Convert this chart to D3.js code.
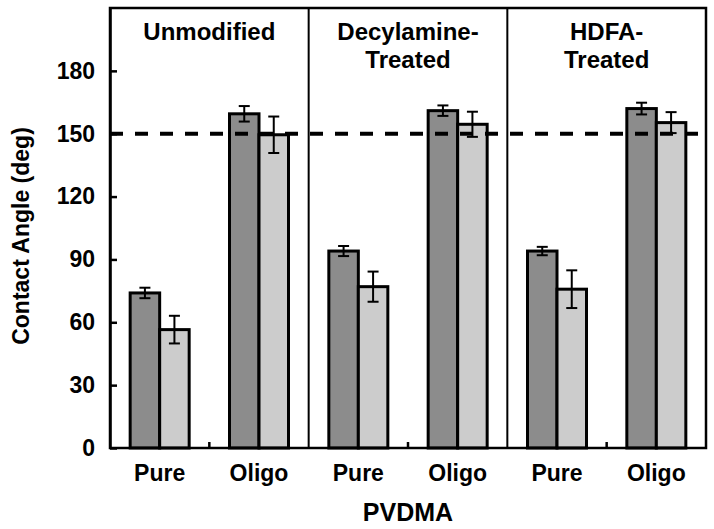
<!DOCTYPE html>
<html>
<head>
<meta charset="utf-8">
<script src="https://cdn.jsdelivr.net/npm/d3@7"></script>
<style>
  html, body { margin: 0; padding: 0; background: #fff; }
  svg text { font-family: "Liberation Sans", Arial, sans-serif; font-weight: bold; fill: #000; }
</style>
</head>
<body>
<svg id="chart" width="714" height="529"></svg>
<script>
// ---- data ----
const categories = ["Pure", "Oligo", "Pure", "Oligo", "Pure", "Oligo"];
const panels = [["Unmodified"], ["Decylamine-", "Treated"], ["HDFA-", "Treated"]];
const seriesNames = ["A", "B"];
const darkValues = [74, 159.5, 94, 161, 94, 162];
const darkErrors = [2.5, 3.7, 2.4, 2.5, 2, 2.8];
const lightValues = [56.5, 149.5, 77, 154.5, 75.8, 155.3];
const lightErrors = [6.6, 8.7, 7.2, 6, 9, 5];
const yTicks = [0, 30, 60, 90, 120, 150, 180];
const thresholdValue = 150;
const yLabel = "Contact Angle (deg)";
const xLabel = "PVDMA";

// ---- layout ----
const L = 110, R = 706, T = 8, B = 448;
const colors = ["#8c8c8c", "#cccccc"];

const svg = d3.select("#chart");

const x = d3.scaleBand().domain(d3.range(categories.length)).range([L, R]).paddingInner(0).paddingOuter(0);
const barGroupWidth = 59;
const xs = d3.scaleBand().domain(seriesNames).range([0, barGroupWidth]);
const y = d3.scaleLinear().domain([0, 210]).range([B, T]);

const data = categories.map((c, i) => ({
  i, c,
  vals: [
    { s: "A", v: darkValues[i], e: darkErrors[i] },
    { s: "B", v: lightValues[i], e: lightErrors[i] }
  ]
}));

// bars
const groups = svg.selectAll("g.cat").data(data).join("g")
  .attr("class", "cat")
  .attr("transform", d => `translate(${x(d.i) + x.bandwidth() / 2 - barGroupWidth / 2},0)`);

groups.selectAll("rect").data(d => d.vals).join("rect")
  .attr("x", d => xs(d.s))
  .attr("y", d => y(d.v))
  .attr("width", xs.bandwidth())
  .attr("height", d => y(0) - y(d.v))
  .attr("fill", (d, k) => colors[k])
  .attr("stroke", "#000")
  .attr("stroke-width", 3);

// error bars
groups.selectAll("g.err").data(d => d.vals).join("g").attr("class", "err")
  .each(function(d) {
    const g = d3.select(this);
    const cx = xs(d.s) + xs.bandwidth() / 2;
    g.append("line").attr("x1", cx).attr("x2", cx).attr("y1", y(d.v + d.e)).attr("y2", y(d.v - d.e))
      .attr("stroke", "#000").attr("stroke-width", 2);
    [d.v + d.e, d.v - d.e].forEach(v => {
      g.append("line").attr("x1", cx - 5.5).attr("x2", cx + 5.5).attr("y1", y(v)).attr("y2", y(v))
        .attr("stroke", "#000").attr("stroke-width", 2);
    });
  });

// dashed threshold line
svg.append("line")
  .attr("x1", L).attr("x2", R)
  .attr("y1", y(thresholdValue)).attr("y2", y(thresholdValue))
  .attr("stroke", "#000").attr("stroke-width", 4)
  .attr("stroke-dasharray", "13,12");

// panel dividers
[2, 4].forEach(k => {
  svg.append("line").attr("x1", x(k)).attr("x2", x(k)).attr("y1", T).attr("y2", B)
    .attr("stroke", "#000").attr("stroke-width", 2);
});
// small x ticks at boundaries
[1, 3, 5].forEach(k => {
  svg.append("line").attr("x1", x(k)).attr("x2", x(k)).attr("y1", B).attr("y2", B - 6)
    .attr("stroke", "#000").attr("stroke-width", 2.5);
});

// frame
svg.append("rect").attr("x", L).attr("y", T).attr("width", R - L).attr("height", B - T)
  .attr("fill", "none").attr("stroke", "#000").attr("stroke-width", 2.5);

// y axis
const yAxis = d3.axisLeft(y).tickValues(yTicks).tickSizeInner(-7).tickSizeOuter(0).tickPadding(15);
const ya = svg.append("g").attr("transform", `translate(${L},0)`).call(yAxis);
ya.select(".domain").attr("stroke", "#000").attr("stroke-width", 2.5);
ya.selectAll(".tick line").attr("stroke", "#000").attr("stroke-width", 2.5);
ya.selectAll(".tick text").style("font-size", "23px").style("font-family", "'Liberation Sans', Arial, sans-serif").style("font-weight", "bold");

// x category labels
const xAxis = d3.axisBottom(x).tickFormat(i => categories[i]).tickSize(0).tickPadding(17);
const xa = svg.append("g").attr("transform", `translate(0,${B})`).call(xAxis);
xa.select(".domain").remove();
xa.selectAll(".tick text").style("font-size", "23px").style("font-family", "'Liberation Sans', Arial, sans-serif").style("font-weight", "bold");

// panel labels
panels.forEach((lines, p) => {
  const cx = (x(p * 2) + x(p * 2 + 1) + x.bandwidth()) / 2;
  lines.forEach((t, j) => {
    svg.append("text").attr("x", cx).attr("y", 40 + j * 28)
      .attr("text-anchor", "middle").style("font-size", "24px").text(t);
  });
});

// axis titles
svg.append("text").attr("x", (L + R) / 2).attr("y", 521).attr("text-anchor", "middle")
  .style("font-size", "25px").text(xLabel);
svg.append("text").attr("transform", `translate(29,${(T + B) / 2 + 8}) rotate(-90)`)
  .attr("text-anchor", "middle").style("font-size", "23px").text(yLabel);
</script>
</body>
</html>
